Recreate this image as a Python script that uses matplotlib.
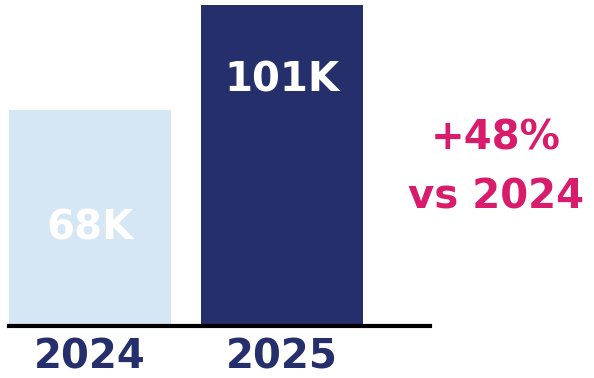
import matplotlib.pyplot as plt

# data
years = ['2024', '2025']
visitors = [68, 101]          # thousands
bar_labels = ['68K', '101K']
change_text = '+48%\nvs 2024'

navy = '#252f6b'
light = '#d5e6f4'
pink = '#d81b6a'
bar_colors = [light, navy]

fig = plt.figure(figsize=(5.94, 3.78), dpi=100)
ax = fig.add_axes([9/594, 52/378, 421/594, 321/378])

x = range(len(years))
bars = ax.bar(x, visitors, width=0.844, color=bar_colors)
ax.set_xlim(-0.422, 1.771)
ax.set_ylim(0, max(visitors))

# labels inside the bars (fraction of bar height where the text sits)
label_pos = [0.45, 0.765]
for i, (b, lab) in enumerate(zip(bars, bar_labels)):
    ax.text(b.get_x() + b.get_width()/2, b.get_height()*label_pos[i], lab,
            ha='center', va='center', color='white', fontsize=29,
            fontweight='bold', family='DejaVu Sans')

ax.axhline(0, color='black', lw=3, clip_on=False)

ax.set_xticks(list(x))
ax.set_xticklabels(years, fontsize=29, fontweight='bold', color=navy)
ax.tick_params(axis='x', length=0, pad=8)
ax.set_yticks([])
for s in ax.spines.values():
    s.set_visible(False)

fig.text(496/594, 1 - 168/378, change_text, ha='center', va='center',
         color=pink, fontsize=29, fontweight='bold', linespacing=1.6)

fig.savefig('out.png', dpi=100)
